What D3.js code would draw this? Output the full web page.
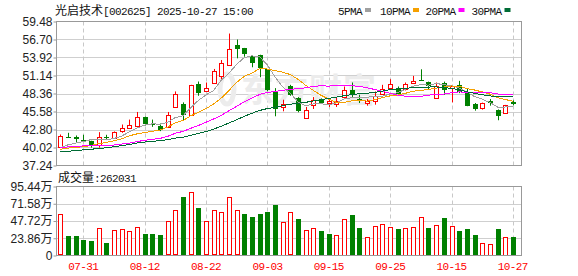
<!DOCTYPE html>
<html><head><meta charset="utf-8">
<script src="https://cdn.jsdelivr.net/npm/d3@7"></script>
<style>
html,body{margin:0;padding:0;background:#fff;}
svg{display:block;}
</style></head><body>
<svg id="c" width="578" height="276"></svg>
<script>
// ---------------- DATA ----------------
const dates = ["07-28","07-29","07-30","07-31","08-01","08-04","08-05","08-06","08-07","08-08",
"08-11","08-12","08-13","08-14","08-15","08-18","08-19","08-20","08-21","08-22",
"08-25","08-26","08-27","08-28","08-29","09-01","09-02","09-03","09-04","09-05",
"09-08","09-09","09-10","09-11","09-12","09-15","09-16","09-17","09-18","09-19",
"09-22","09-23","09-24","09-25","09-26","09-29","09-30","10-09","10-10","10-13",
"10-14","10-15","10-16","10-17","10-20","10-21","10-22","10-23","10-24","10-27"];
const openP = [40.14,41.70,41.68,41.20,40.96,40.50,41.68,41.47,42.55,43.01,
43.31,44.74,43.62,43.41,43.21,46.28,46.74,44.99,49.85,48.68,
49.95,51.08,52.77,55.83,55.32,54.14,54.30,52.10,48.52,46.28,
49.55,47.66,44.59,46.48,47.40,46.89,46.79,47.81,48.93,47.55,
46.89,47.30,48.32,49.29,49.19,49.08,49.95,50.45,50.11,47.66,
49.95,49.30,49.60,48.42,46.74,46.07,47.25,45.87,45.36,47.09];
const closeP = [41.78,41.60,41.37,41.10,40.35,41.68,41.47,42.44,43.06,43.47,
44.69,43.72,43.41,42.80,44.99,48.32,45.10,49.65,48.42,49.19,
51.85,53.02,55.17,55.17,54.40,53.12,52.25,48.78,45.97,46.74,
48.17,45.61,45.87,47.30,46.99,47.14,47.25,48.93,48.17,47.30,
47.25,48.01,49.03,49.85,48.32,49.85,50.31,50.38,49.44,49.55,
48.93,49.55,48.52,46.48,45.97,46.89,46.99,44.99,46.53,46.74];
const highP = [42.03,42.29,41.88,41.98,41.06,42.39,41.98,42.50,43.57,44.33,
45.51,44.80,44.33,43.72,45.51,48.68,46.99,49.70,50.21,50.06,
52.15,53.53,57.62,56.70,55.40,54.20,54.35,52.15,49.19,47.40,
49.70,47.80,46.28,47.81,47.60,47.50,47.66,49.44,50.06,48.17,
47.50,48.68,49.70,50.57,49.44,50.06,51.08,52.10,50.20,50.06,
50.20,49.60,50.31,49.19,46.89,46.95,47.50,45.90,46.60,47.30];
const lowP = [40.10,41.50,40.76,40.86,39.99,39.99,41.17,41.40,42.29,43.00,
43.21,43.41,43.21,42.55,43.10,46.20,44.23,44.90,48.01,48.60,
49.90,50.57,52.61,53.79,54.04,52.41,50.87,48.70,44.84,45.61,
48.01,45.46,44.50,45.97,46.90,46.28,46.28,47.50,47.66,46.89,
46.48,46.63,48.20,49.20,48.30,48.83,49.90,50.35,48.93,47.60,
48.17,46.99,48.42,46.40,45.71,45.87,46.48,44.23,45.25,46.53];
// volume in 万 (10k shares)
const volume = [57.4,27.5,27.5,22.0,20.7,38.1,17.9,35.3,36.7,34.0,
39.5,30.3,30.3,28.9,47.7,62.9,81.2,87.7,66.1,47.7,
62.9,60.1,80.8,62.9,57.8,53.7,57.8,60.6,70.2,46.4,
60.1,51.0,35.3,38.1,34.4,30.3,28.5,50.5,56.5,38.6,
25.7,40.9,43.6,39.5,37.2,38.1,39.5,53.3,38.6,42.2,
52.3,40.9,34.4,37.2,28.9,17.4,16.1,37.2,25.7,26.2031];
// volume bar colour: 1 = up (red), 0 = down (green)
const volUp = [1,0,0,0,0,1,0,1,1,1, 1,0,0,0,1,1,0,1,0,1,
1,1,1,1,0,0,0,0,0,1, 1,0,1,1,0,0,1,1,0,0,
1,1,1,1,0,1,1,1,0,1, 0,1,0,0,0,1,1,0,1,0];
// closes of the 29 sessions before 07-28 (needed for the moving averages)
const priorCloses = [38.4,38.1,37.8,37.6,37.9,38.2,38.0,37.8,38.1,38.0,
39.2,39.6,40.1,40.5,40.8,41.0,40.6,40.3,40.4,40.0,39.9,40.1,40.15,
38.5,38.85,39.4,40.1,39.9,38.8];
const priceTicks = [37.24,40.02,42.80,45.58,48.36,51.14,53.92,56.70,59.48];
const volTicks = [0,23.86,47.72,71.58,95.44];
const dateTicks = ["07-31","08-12","08-22","09-03","09-15","09-25","10-15","10-27"];
const maPeriods = [5,10,20,30];
const maNames = ["5PMA","10PMA","20PMA","30PMA"];
const maColors = ["#a0a0a0","#f5a000","#ff00ff","#006b35"];
const titleName = "光启技术";
const titleRest = "[002625] 2025-10-27 15:00";
const volTitle = "成交量";
const lastVol = "262031";

// ---------------- LAYOUT ----------------
const svg = d3.select("#c");
const L = 56.5, R = 521.5, pTop = 21.5, pBot = 165.5, vTop = 186.5, vBot = 255.5;
const step = 7.67;
const x = d3.scaleBand().domain(dates).range([L, L + step*dates.length]).paddingInner(0.35).paddingOuter(0.175);
const cx = d => x(d) + x.bandwidth()/2;
const y = d3.scaleLinear().domain([priceTicks[0], priceTicks[priceTicks.length-1]]).range([pBot, pTop]);
const yv = d3.scaleLinear().domain([0, volTicks[volTicks.length-1]]).range([vBot, vTop]);
const RED = "#ff0000", GREEN = "#008000";
const mono = "'Liberation Mono', 'DejaVu Sans Mono', monospace";
const cjk = "'Noto Sans CJK SC', sans-serif";

// grids
const grid = svg.append("g");
grid.selectAll("line.hp").data(priceTicks.slice(1,-1)).join("line")
  .attr("x1", L).attr("x2", R).attr("y1", d => Math.round(y(d))+0.5).attr("y2", d => Math.round(y(d))+0.5)
  .attr("stroke", "#cfcfcf");
grid.selectAll("line.hv").data(volTicks.slice(1,-1)).join("line")
  .attr("x1", L).attr("x2", R).attr("y1", d => Math.round(yv(d))+0.5).attr("y2", d => Math.round(yv(d))+0.5)
  .attr("stroke", "#cfcfcf");
[[pTop,pBot],[vTop,vBot]].forEach(([a,b]) => {
  grid.append("g").selectAll("line").data(dateTicks).join("line")
    .attr("x1", d => Math.round(cx(d))+0.5).attr("x2", d => Math.round(cx(d))+0.5)
    .attr("y1", a).attr("y2", b)
    .attr("stroke", "#c8c8c8").attr("stroke-dasharray", "4,3");
});

// watermark
const wm = svg.append("g").attr("fill", "#ececec");
wm.append("ellipse").attr("cx", 227).attr("cy", 89).attr("rx", 7).attr("ry", 15)
  .attr("fill", "none").attr("stroke", "#ececec").attr("stroke-width", 5);
wm.append("text").attr("x", 241).attr("y", 102).attr("font-family", cjk)
  .attr("font-size", 33).attr("font-weight", "bold").attr("letter-spacing", 1).text("东方财富");

// candles
const cg = svg.append("g");
dates.forEach((d, i) => {
  const c = cx(d);
  const up = closeP[i] >= openP[i];
  const col = up ? RED : GREEN;
  const xm = Math.round(c) + 0.5;
  cg.append("line").attr("x1", xm).attr("x2", xm)
    .attr("y1", y(highP[i])).attr("y2", y(lowP[i])).attr("stroke", col).attr("stroke-width", 1);
  const top = y(Math.max(openP[i], closeP[i])), bot = y(Math.min(openP[i], closeP[i]));
  if (up) {
    const ty = Math.round(top) + 0.5;
    cg.append("rect").attr("x", Math.round(c) - 2 + 0.5).attr("y", ty)
      .attr("width", 4).attr("height", Math.max(1, Math.round(bot - top)))
      .attr("fill", "#fff").attr("stroke", RED).attr("stroke-width", 1);
  } else {
    cg.append("rect").attr("x", Math.round(c) - 2).attr("y", Math.round(top))
      .attr("width", 5).attr("height", Math.max(1, Math.round(bot - top)))
      .attr("fill", GREEN);
  }
});

// moving averages
const allCloses = priorCloses.concat(closeP);
const off = priorCloses.length;
maPeriods.forEach((p, k) => {
  const vals = dates.map((d, i) => d3.mean(allCloses.slice(i + off - p + 1, i + off + 1)));
  svg.append("path").datum(vals)
    .attr("d", d3.line().x((v, i) => cx(dates[i])).y(v => y(v)))
    .attr("fill", "none").attr("stroke", maColors[k]).attr("stroke-width", 1)
    .attr("shape-rendering", "crispEdges");
});

// volume bars
const vg = svg.append("g");
dates.forEach((d, i) => {
  const c = cx(d);
  const t = yv(volume[i]);
  if (volUp[i]) {
    vg.append("rect").attr("x", Math.round(c) - 2 + 0.5).attr("y", Math.round(t) + 0.5)
      .attr("width", 4).attr("height", Math.round(vBot - t) - 1)
      .attr("fill", "#fff").attr("stroke", RED);
  } else {
    vg.append("rect").attr("x", Math.round(c) - 2).attr("y", Math.round(t))
      .attr("width", 5).attr("height", Math.round(vBot - t))
      .attr("fill", GREEN);
  }
});

// borders
[[pTop,pBot],[vTop,vBot]].forEach(([a,b]) => {
  svg.append("rect").attr("x", L).attr("y", a).attr("width", R - L).attr("height", b - a)
    .attr("fill", "none").attr("stroke", "#999");
});

// axes
const yAxis = d3.axisLeft(y).tickValues(priceTicks).tickSize(3).tickPadding(1).tickFormat(d3.format(".2f"));
const ya = svg.append("g").attr("transform", `translate(${L},0)`).call(yAxis);
const vAxis = d3.axisLeft(yv).tickValues(volTicks).tickSize(3).tickPadding(1)
  .tickFormat(v => v === 0 ? "0" : d3.format(".2f")(v) + "万");
const va = svg.append("g").attr("transform", `translate(${L},0)`).call(vAxis);
[ya, va].forEach(g => {
  g.select(".domain").remove();
  g.selectAll(".tick line").attr("stroke", "#999");
  g.selectAll(".tick text").attr("fill", "#222").attr("font-size", 12)
    .attr("font-family", "'Liberation Sans', Arial, " + cjk);
});

// date labels
svg.append("g").selectAll("text").data(dateTicks).join("text")
  .attr("x", d => cx(d)).attr("y", 270).attr("text-anchor", "middle")
  .attr("fill", RED).attr("font-family", mono).attr("font-size", 11).attr("letter-spacing", -0.6)
  .text(d => d);

// title
const tt = svg.append("text").attr("x", 55).attr("y", 14.5).attr("fill", "#111");
tt.append("tspan").attr("font-family", cjk).attr("font-size", 12).text(titleName);
tt.append("tspan").attr("font-family", mono).attr("font-size", 11).attr("letter-spacing", -0.6).text(titleRest);

// legend
const legX = [338, 380, 425.5, 471.5];
maNames.forEach((n, k) => {
  svg.append("text").attr("x", legX[k]).attr("y", 14.5).attr("fill", "#111")
    .attr("font-family", mono).attr("font-size", 11).attr("letter-spacing", -0.6).text(n);
  const w = n.length * 6;
  svg.append("rect").attr("x", legX[k] + w + 3).attr("y", 8).attr("width", 6).attr("height", 4)
    .attr("fill", maColors[k]);
});

// volume title
const vt = svg.append("text").attr("x", 58).attr("y", 182).attr("fill", "#111");
vt.append("tspan").attr("font-family", cjk).attr("font-size", 12).text(volTitle);
vt.append("tspan").attr("font-family", mono).attr("font-size", 11).attr("letter-spacing", -0.6).text(":" + lastVol);
</script>
</body></html>
